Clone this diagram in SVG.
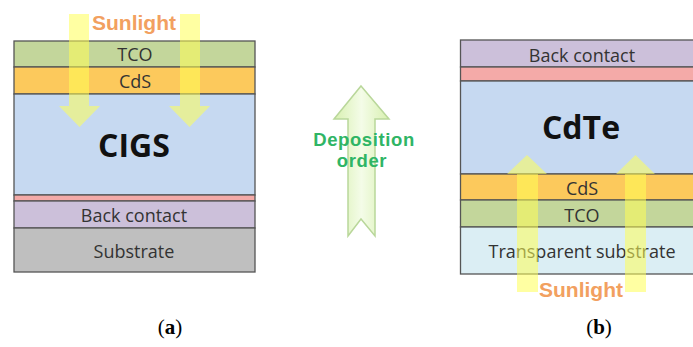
<svg xmlns="http://www.w3.org/2000/svg" width="693" height="347" viewBox="0 0 693 347">
<defs>
<style>
.layer{stroke:#555;stroke-width:1.3}
.lbl{font-family:"Open Sans","Liberation Sans",sans-serif;font-size:18px;fill:#333;text-anchor:middle}
.big{font-family:"Open Sans","Liberation Sans",sans-serif;font-size:32px;font-weight:bold;fill:#111;text-anchor:middle}
.sun{font-family:"Liberation Sans",Arial,sans-serif;font-size:21px;font-weight:bold;fill:#f2a060;text-anchor:middle}
.ray{fill:#ffff55;fill-opacity:0.55}
.dep{font-family:"Liberation Sans",Arial,sans-serif;font-size:18.5px;font-weight:bold;fill:#2fb565;text-anchor:middle;letter-spacing:0.6px}
.cap{font-family:"Liberation Serif","Times New Roman",serif;font-size:21px;fill:#000;text-anchor:middle}
</style>
<linearGradient id="g" x1="0" y1="0" x2="1" y2="0">
<stop offset="0" stop-color="#d8f0b0"/>
<stop offset="0.5" stop-color="#f4fce8"/>
<stop offset="1" stop-color="#d8f0b0"/>
</linearGradient>
</defs>
<rect width="693" height="347" fill="#fff"/>
<g id="cigs">
<rect class="layer" x="14" y="41" width="241" height="26" fill="#c3d69b"/>
<rect class="layer" x="14" y="67" width="241" height="27" fill="#fcc95c"/>
<rect class="layer" x="14" y="94" width="241" height="101" fill="#c6d9f1"/>
<rect class="layer" x="14" y="195" width="241" height="6" fill="#f4aaa8"/>
<rect class="layer" x="14" y="201" width="241" height="27" fill="#ccc0da"/>
<rect class="layer" x="14" y="228" width="241" height="44" fill="#bfbfbf"/>
<text class="lbl" x="135" y="61">TCO</text>
<text class="lbl" x="135" y="88">CdS</text>
<text class="big" x="134" y="157">CIGS</text>
<text class="lbl" x="134" y="222">Back contact</text>
<text class="lbl" x="134" y="258">Substrate</text>
<polygon class="ray" points="69,14 89,14 89,106 100,106 79.5,127 59,106 69,106"/>
<polygon class="ray" points="180,14 200,14 200,106 210,106 189.5,127 169,106 180,106"/>
<text class="sun" x="134" y="30">Sunlight</text>
</g>
<g id="cdte">
<rect class="layer" x="460.5" y="40" width="240" height="27" fill="#ccc0da"/>
<rect class="layer" x="460.5" y="67" width="240" height="14" fill="#f4aaa8"/>
<rect class="layer" x="460.5" y="81" width="240" height="93" fill="#c6d9f1"/>
<rect class="layer" x="460.5" y="174" width="240" height="26" fill="#fcc95c"/>
<rect class="layer" x="460.5" y="200" width="240" height="27" fill="#c3d69b"/>
<rect class="layer" x="460.5" y="227" width="240" height="47" fill="#dbeef4"/>
<text class="lbl" x="582" y="62">Back contact</text>
<text class="big" x="581" y="139">CdTe</text>
<text class="lbl" x="582" y="195">CdS</text>
<text class="lbl" x="582" y="222">TCO</text>
<text class="lbl" x="582" y="258">Transparent substrate</text>
<polygon class="ray" points="517,292 538,292 538,174 547,174 527,155 507,174 517,174"/>
<polygon class="ray" points="625,292 646,292 646,174 655,174 635.5,155 616,174 625,174"/>
<text class="sun" x="581" y="297">Sunlight</text>
</g>
<g id="deposition">
<polygon points="361,86 389,119 375,119 375,236 361,219 348,236 348,119 334,119" fill="url(#g)" stroke="#b9d79a" stroke-width="1.5"/>
<text class="dep" x="364" y="146">Deposition</text>
<text class="dep" x="362" y="167">order</text>
</g>
<g id="captions">
<text class="cap" x="170" y="334">(<tspan font-weight="bold">a</tspan>)</text>
<text class="cap" x="599" y="334">(<tspan font-weight="bold">b</tspan>)</text>
</g>
</svg>
